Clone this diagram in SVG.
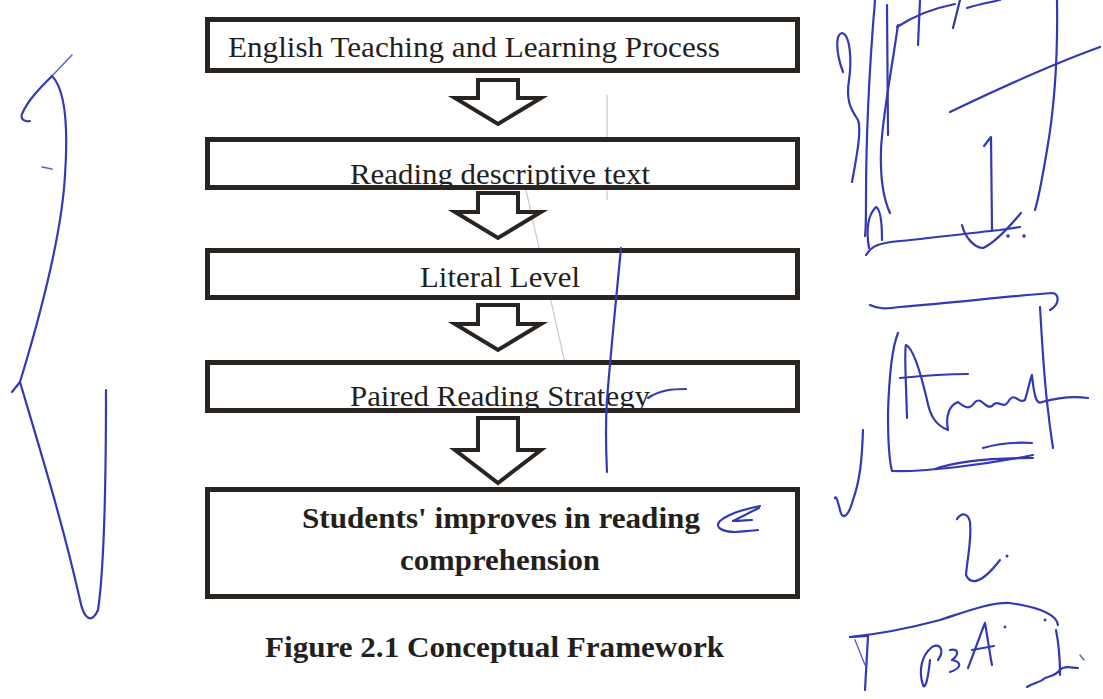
<svg xmlns="http://www.w3.org/2000/svg" width="1103" height="699" viewBox="0 0 1103 699">
  <style>
    .box { fill: #ffffff; stroke: #2a2420; stroke-width: 5; }
    .arrow { fill: #ffffff; stroke: #2a2420; stroke-width: 4; stroke-linejoin: miter; }
    .t { font-family: "Liberation Serif", "Times New Roman", serif; font-size: 30px; fill: #241f1c; }
    .tb { font-family: "Liberation Serif", "Times New Roman", serif; font-size: 30px; font-weight: bold; fill: #241f1c; }
    .pen { fill: none; stroke: #3338b4; stroke-width: 2.2; stroke-linecap: round; stroke-linejoin: round; }
    .pen-thin { fill: none; stroke: #5a5fc8; stroke-width: 1.4; stroke-linecap: round; }
    .faint { fill: none; stroke: #c9c9cf; stroke-width: 1.2; }
  </style>
  <defs>
    <clipPath id="clip-b2"><rect x="210" y="142" width="585" height="43"/></clipPath>
    <clipPath id="clip-b4"><rect x="210" y="365" width="585" height="43"/></clipPath>
  </defs>

  <rect width="1103" height="699" fill="#ffffff"/>

  <!-- faint pencil traces behind the chart -->
  <g id="traces">
    <path class="faint" d="M607 95 L607 200"/>
    <path class="faint" d="M526 190 L576 412"/>
  </g>

  <!-- flow boxes -->
  <g id="node-teaching">
    <rect class="box" x="207.5" y="19.5" width="590" height="51"/>
    <text class="t" x="228" y="57" textLength="492" lengthAdjust="spacingAndGlyphs">English Teaching and Learning Process</text>
  </g>
  <g id="node-descriptive">
    <rect class="box" x="207.5" y="139.5" width="590" height="48"/>
    <text class="t" x="500" y="184" text-anchor="middle" textLength="300" lengthAdjust="spacingAndGlyphs" clip-path="url(#clip-b2)">Reading descriptive text</text>
  </g>
  <g id="node-literal">
    <rect class="box" x="207.5" y="250.5" width="590" height="47"/>
    <text class="t" x="500" y="287" text-anchor="middle" textLength="160" lengthAdjust="spacingAndGlyphs">Literal Level</text>
  </g>
  <g id="node-paired">
    <rect class="box" x="207.5" y="362.5" width="590" height="48"/>
    <text class="t" x="500" y="406" text-anchor="middle" textLength="300" lengthAdjust="spacingAndGlyphs" clip-path="url(#clip-b4)">Paired Reading Strategy</text>
  </g>
  <g id="node-outcome">
    <rect class="box" x="207.5" y="489.5" width="590" height="107"/>
    <text class="tb" x="501" y="528" text-anchor="middle" textLength="398" lengthAdjust="spacingAndGlyphs">Students' improves in reading</text>
    <text class="tb" x="500" y="570" text-anchor="middle" textLength="200" lengthAdjust="spacingAndGlyphs">comprehension</text>
  </g>

  <!-- hollow block arrows between the boxes -->
  <g id="connectors">
    <path class="arrow" d="M478 80 L518 80 L518 98 L541 98 L498 124 L455 98 L478 98 Z"/>
    <path class="arrow" d="M478 193 L518 193 L518 212 L541 212 L498 238 L455 212 L478 212 Z"/>
    <path class="arrow" d="M478 305 L518 305 L518 324 L541 324 L498 350 L455 324 L478 324 Z"/>
    <path class="arrow" d="M478 418 L518 418 L518 450 L541 450 L498 483 L455 450 L478 450 Z"/>
  </g>

  <g id="caption">
    <text class="tb" x="265" y="657" textLength="459" lengthAdjust="spacingAndGlyphs">Figure 2.1 Conceptual Framework</text>
  </g>

  <!-- pen annotations -->
  <g id="pen-marks">
    <!-- left margin brace -->
    <path class="pen-thin" d="M72 55 L52 76"/>
    <path class="pen" d="M52 76 C40 88 28 100 22 114 C20 120 26 122 30 121"/>
    <path class="pen" d="M52 76 C66 90 68 130 65 175 C62 230 45 300 20 382"/>
    <path class="pen" d="M20 382 L12 392"/>
    <path class="pen" d="M20 382 C40 450 62 520 80 600 C84 620 92 624 98 610 C104 570 106 480 106 390"/>
    <path class="pen-thin" d="M42 167 L52 169"/>

    <!-- center vertical stroke -->
    <path class="pen" d="M621 248 C616 300 610 360 607 400 C605 430 606 450 607 472"/>
    <!-- mark after "Paired Reading Strategy" -->
    <path class="pen" d="M648 398 C660 390 672 389 686 389"/>
    <!-- arrow mark beside the outcome text -->
    <path class="pen" d="M760 506 C745 509 728 514 720 521 C714 527 722 532 735 532 C745 531 752 531 758 530"/>
    <path class="pen" d="M759 508 C748 513 738 519 733 521 C740 521 748 520 752 520"/>

    <!-- right margin: upper sketch -->
    <path class="pen" d="M843 72 C835 50 836 34 842 33 C850 34 852 60 849 80 C846 100 850 108 858 120 C862 130 856 160 852 182"/>
    <path class="pen" d="M875 0 C870 60 866 120 866 200 C866 215 866 230 865 236"/>
    <path class="pen" d="M887 5 L888 135"/>
    <path class="pen" d="M898 25 C890 80 882 120 881 150 C880 180 884 200 890 213"/>
    <path class="pen" d="M897 27 C915 15 935 8 955 4"/>
    <path class="pen" d="M920 0 L918 45"/>
    <path class="pen" d="M953 28 L960 0"/>
    <path class="pen" d="M967 8 C980 4 992 2 1000 0"/>
    <path class="pen" d="M950 112 C1000 88 1050 65 1100 47"/>
    <path class="pen" d="M1057 0 C1058 60 1054 110 1047 150 C1042 180 1038 200 1035 210"/>
    <path class="pen" d="M984 146 L991 137 L992 230"/>
    <path class="pen" d="M866 255 C872 245 880 243 900 241 C940 237 980 232 1000 230 L1020 227"/>
    <path class="pen" d="M962 225 C965 238 975 248 983 248 C993 244 1005 232 1021 213"/>
    <path class="pen" d="M869 248 C866 230 868 215 876 207 C882 210 882 230 882 240"/>
    <circle cx="1008" cy="236" r="1.8" fill="#3338b4"/>
    <circle cx="1024" cy="236" r="1.8" fill="#3338b4"/>

    <!-- right margin: boxed signature -->
    <path class="pen" d="M870 305 C878 309 885 309 900 307 C960 302 1010 296 1053 293 C1060 295 1059 305 1050 310"/>
    <path class="pen" d="M1040 307 C1042 340 1044 380 1048 410 C1050 430 1052 440 1053 448"/>
    <path class="pen" d="M898 333 C891 350 889 380 888 413 C888 440 889 460 892 471 C920 472 980 466 1033 455"/>
    <path class="pen" d="M907 418 C906 380 904 350 906 345 C913 348 920 370 927 400 C930 415 935 425 948 430 C945 415 950 405 958 402 C965 408 970 410 975 402 C982 396 985 410 992 406 C998 398 1003 410 1008 402 C1015 390 1018 405 1025 400 C1028 390 1030 380 1032 375 C1034 395 1036 405 1042 402 C1060 397 1075 396 1088 398"/>
    <path class="pen" d="M900 378 C930 375 950 374 968 374"/>
    <path class="pen" d="M935 469 C955 462 985 458 1033 458"/>
    <path class="pen" d="M983 448 C1000 443 1015 442 1032 443"/>
    <path class="pen" d="M863 430 C862 460 860 480 853 500 C848 518 842 520 840 510 C838 502 836 495 835 498"/>

    <!-- right margin: lower arrow and initials -->
    <path class="pen" d="M957 519 C962 512 968 513 970 522 C972 540 967 560 966 575 C970 584 980 586 1000 560"/>
    <circle cx="1007" cy="556" r="1.5" fill="#3338b4"/>
    <path class="pen" d="M850 637 C880 634 910 628 940 620 C965 612 990 602 1010 603 C1030 606 1056 612 1058 625"/>
    <path class="pen" d="M850 637 L868 636"/>
    <path class="pen" d="M868 636 L865 690"/>
    <path class="pen-thin" d="M855 640 L865 665"/>
    <path class="pen" d="M930 660 C928 680 925 690 923 685 C918 670 922 655 932 647 C940 643 945 650 938 660"/>
    <path class="pen" d="M950 650 C958 648 960 654 952 660 C962 662 962 668 950 672"/>
    <path class="pen" d="M968 668 C975 650 982 630 985 623 C988 640 990 655 992 665"/>
    <path class="pen" d="M972 650 L994 646"/>
    <circle cx="1005" cy="627" r="1.4" fill="#3338b4"/>
    <circle cx="1045" cy="620" r="1.4" fill="#3338b4"/>
    <path class="pen" d="M1056 630 C1060 650 1060 665 1060 675"/>
    <path class="pen" d="M1027 687 C1035 682 1040 683 1045 678 C1050 676 1055 676 1060 670 C1065 665 1072 668 1078 668"/>
    <path class="pen-thin" d="M1080 655 L1084 660"/>
  </g>
</svg>
